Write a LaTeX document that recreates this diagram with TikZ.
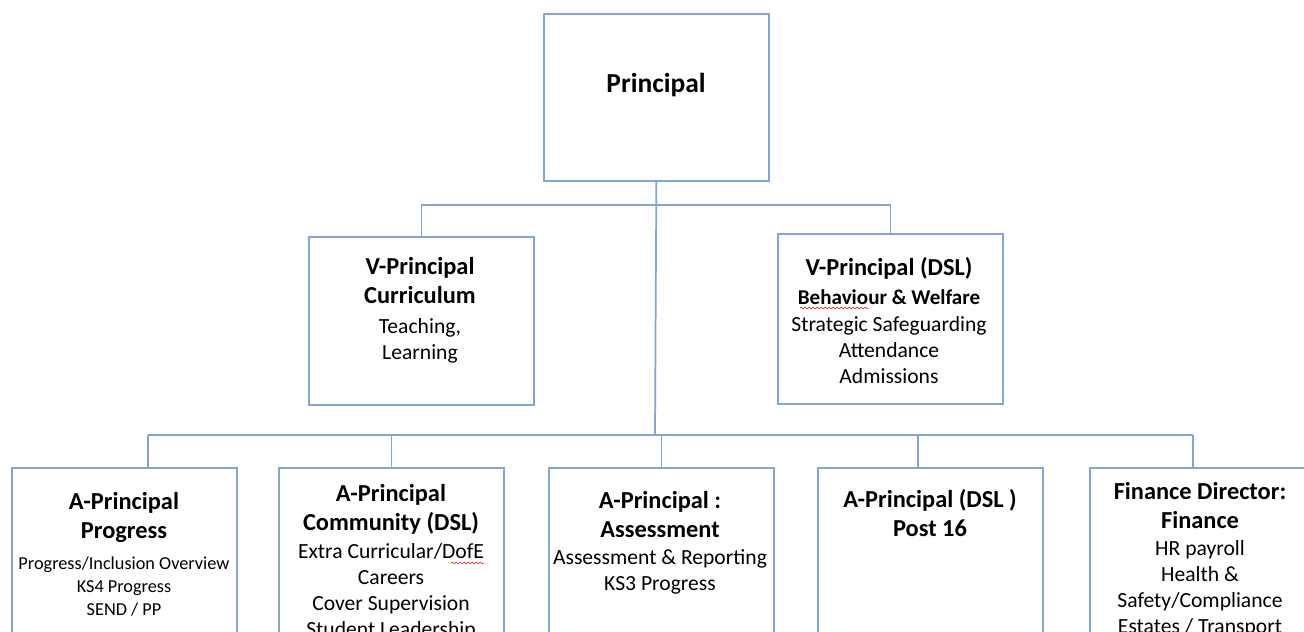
\documentclass[tikz,border=0pt]{standalone}
\usepackage{fontspec}
\setmainfont{Carlito}
\usetikzlibrary{decorations.pathmorphing}
\definecolor{ln}{RGB}{130,165,210}
\definecolor{sq}{RGB}{220,50,50}
\newcommand\lnH[1]{{\fontsize{18.3}{22}\selectfont\bfseries\rule[-4.7pt]{0pt}{22pt}#1}}
\newcommand\lnBB[1]{{\fontsize{15.8}{19.5}\selectfont\bfseries\rule[-4.05pt]{0pt}{19.5pt}#1}}
\newcommand\lnB[1]{{\fontsize{16.2}{19.5}\selectfont\rule[-4.05pt]{0pt}{19.5pt}#1}}
\newcommand\lnS[1]{{\fontsize{13.7}{17}\selectfont\rule[-3.7pt]{0pt}{17pt}#1}}
\begin{document}
\begin{tikzpicture}[x=0.75pt,y=-0.75pt,
  box/.style={draw=ln, line width=1.3pt, minimum width=168.75pt, inner sep=0pt, anchor=north west},
  txt/.style={align=center, inner sep=0pt, anchor=north,
    execute at begin node={\lineskiplimit=1000pt\lineskip=0pt}},
  conn/.style={draw=ln, line width=1.3pt},
  squig/.style={draw=sq, line width=0.5pt, decorate, decoration={snake, amplitude=0.6pt, segment length=3pt}}]
\clip (0,0) rectangle (1304,632);
\fill[white] (0,0) rectangle (1304,632);
% boxes
\node[box, minimum height=125.25pt] (P) at (543,13) {};
\node[box, minimum height=126pt] (VC) at (308,236) {};
\node[box, minimum height=127.5pt] (VD) at (777,233) {};
\node[box, minimum height=187.5pt] (B1) at (11,467) {};
\node[box, minimum height=187.5pt] (B2) at (278,467) {};
\node[box, minimum height=187.5pt] (B3) at (548,467) {};
\node[box, minimum height=187.5pt] (B4) at (817,467) {};
\node[box, minimum height=187.5pt] (B5) at (1089,467) {};
% texts
\node[txt, anchor=center, font=\fontsize{20.6}{24}\selectfont\bfseries] (tP) at (656,85) {Principal};
\node[txt] (tVC) at (420,251.3) {\lnH{V-Principal}\\\lnH{Curriculum}\\[2.2pt]\lnB{Teaching,}\\\lnB{Learning}};
\node[txt] (tVD) at (889,252.3) {\lnH{V-Principal (DSL)}\\[1.5pt]\lnBB{Behaviour \& Welfare}\\[0.8pt]\lnB{Strategic Safeguarding}\\\lnB{Attendance}\\\lnB{Admissions}};
\node[txt] (tB1) at (124,486.3) {\lnH{A-Principal}\\\lnH{Progress}\\[5.2pt]\lnS{Progress/Inclusion Overview}\\\lnS{KS4 Progress}\\\lnS{SEND / PP}};
\node[txt] (tB2) at (391,478.3) {\lnH{A-Principal}\\\lnH{Community (DSL)}\\[0.7pt]\lnB{Extra Curricular/DofE}\\\lnB{Careers}\\\lnB{Cover Supervision}\\\lnB{Student Leadership}};
\node[txt] (tB3) at (660,485.3) {\lnH{A-Principal :}\\\lnH{Assessment}\\\lnB{Assessment \& Reporting}\\\lnB{KS3 Progress}};
\node[txt] (tB4) at (930,484.3) {\lnH{A-Principal (DSL )}\\\lnH{Post 16}};
\node[txt] (tB5) at (1200,476.3) {\lnH{Finance Director:}\\\lnH{Finance}\\\lnB{HR payroll}\\\lnB{Health \&}\\\lnB{Safety/Compliance}\\\lnB{Estates / Transport}};
% connectors
\coordinate (busA) at (655,205);
\coordinate (busB) at (655,435);
\coordinate (c1) at (148,435);
\coordinate (c4) at (918,435);
\coordinate (c5) at (1193,435);
\draw[conn] (P.south) -- (busB);
\draw[conn] (VC.north) |- (busA) -| (VD.north);
\draw[conn] (c1) -- (c5);
\draw[conn] (c1) -- (c1 |- B1.north);
\draw[conn] (B2.north) -- (B2.north |- c1);
\draw[conn] (B3.north) -- (B3.north |- c1);
\draw[conn] (c4) -- (c4 |- B4.north);
\draw[conn] (c5) -- (c5 |- B5.north);
% spell-check squiggles
\draw[squig] (800,308) -- (869,308);
\draw[squig] (451,563) -- (484,563);
\end{tikzpicture}
\end{document}
